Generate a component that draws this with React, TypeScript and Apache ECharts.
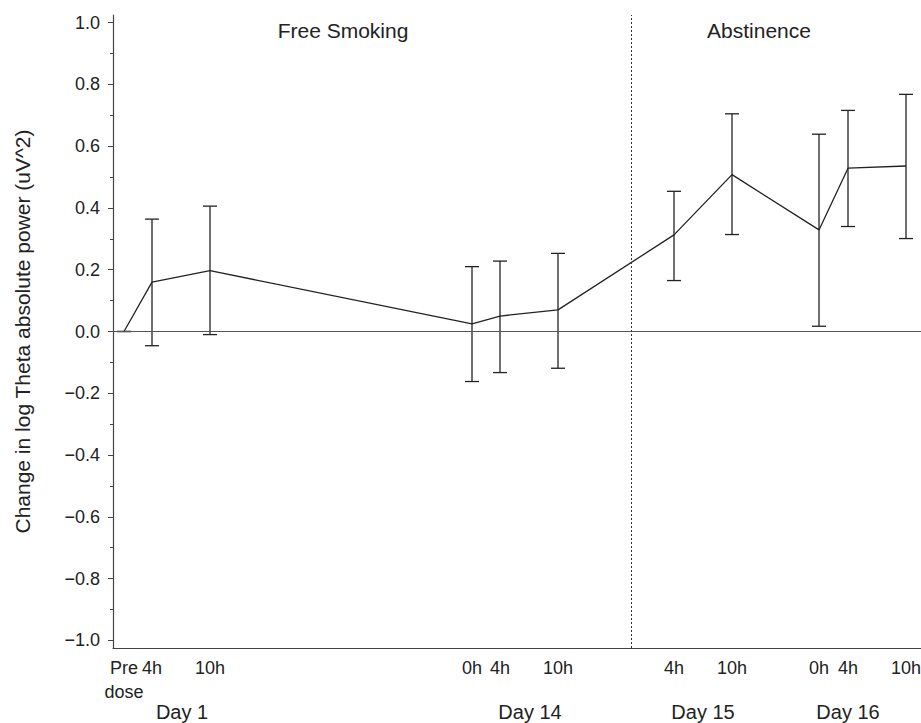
import React, { useEffect, useRef } from "react";
import * as echarts from "echarts";

// x positions of the time points on the (arbitrary) study timeline axis
const timeLabels = ["Pre\ndose", "4h", "10h", "0h", "4h", "10h", "4h", "10h", "0h", "4h", "10h"];
const timePos = [11, 39, 97, 359, 387, 445, 561, 619, 706, 735, 793];
const meanVals = [0, 0.16, 0.197, 0.025, 0.05, 0.07, 0.313, 0.508, 0.329, 0.529, 0.536];
const upperVals = [0, 0.364, 0.406, 0.21, 0.228, 0.253, 0.454, 0.705, 0.639, 0.716, 0.768];
const lowerVals = [0, -0.046, -0.01, -0.162, -0.133, -0.119, 0.165, 0.314, 0.017, 0.34, 0.301];

const dayLabels = ["Day 1", "Day 14", "Day 15", "Day 16"];
const dayPos = [69, 417, 590, 735];

const phaseBoundary = 518;
const xMax = 808;

const yMajorTicks = [-1, -0.8, -0.6, -0.4, -0.2, 0, 0.2, 0.4, 0.6, 0.8, 1];
const yMinorTicks = [-0.9, -0.7, -0.5, -0.3, -0.1, 0.1, 0.3, 0.5, 0.7, 0.9];

const FONT = "'Liberation Sans', Arial, Helvetica, sans-serif";
const INK = "#222";

function labelAxis(
  values: number[],
  names: string[],
  margin: number,
  fontSize: number,
  lineHeight: number,
  showLine: boolean
) {
  return {
    type: "value",
    min: 0,
    max: xMax,
    position: "bottom",
    axisLine: { show: showLine, onZero: false, lineStyle: { color: "#444", width: 1.2 } },
    axisTick: { show: false },
    splitLine: { show: false },
    axisLabel: {
      customValues: values,
      showMinLabel: true,
      showMaxLabel: true,
      margin,
      color: INK,
      fontFamily: FONT,
      fontSize,
      lineHeight,
      verticalAlign: "top",
      formatter: (v: number) => {
        const i = values.indexOf(v);
        return i >= 0 ? names[i] : "";
      },
    },
  };
}

export default function App() {
  const ref = useRef<HTMLDivElement>(null);
  useEffect(() => {
    if (!ref.current) return;
    const chart = echarts.init(ref.current, null, { renderer: "svg" });
    const lineData = timePos.map((x, i) => [x, meanVals[i]]);
    const errData = timePos.map((x, i) => [x, lowerVals[i], upperVals[i]]);
    chart.setOption({
      animation: false,
      backgroundColor: "#fff",
      grid: { left: 113, right: 0, top: 15, bottom: 75, containLabel: false, outerBoundsMode: "none" },
      xAxis: [
        labelAxis(timePos.slice(1), timeLabels.slice(1), 8, 18, 24, true),
        labelAxis(timePos.slice(0, 1), timeLabels.slice(0, 1), 8, 18, 24, false),
        labelAxis(dayPos, dayLabels, 54, 20, 20, false),
      ],
      yAxis: [
        {
          type: "value",
          min: -1.025,
          max: 1.025,
          name: "Change in log Theta absolute power (uV^2)",
          nameLocation: "middle",
          nameGap: 80,
          nameTextStyle: { color: INK, fontFamily: FONT, fontSize: 21 },
          axisLine: { show: true, onZero: false, lineStyle: { color: "#444", width: 1.2 } },
          axisTick: { show: true, customValues: yMajorTicks, length: 5, lineStyle: { color: "#444" } },
          splitLine: { show: false },
          axisLabel: {
            customValues: yMajorTicks,
            showMinLabel: true,
            showMaxLabel: true,
            margin: 13,
            color: INK,
            fontFamily: FONT,
            fontSize: 18,
            formatter: (v: number) => {
              const s = Math.abs(v).toFixed(1);
              return v < -1e-9 ? "\u2212" + s : s;
            },
          },
        },
        {
          type: "value",
          min: -1.025,
          max: 1.025,
          position: "left",
          axisLine: { show: false },
          axisTick: { show: true, customValues: yMinorTicks, length: 3, lineStyle: { color: "#444" } },
          axisLabel: { show: false },
          splitLine: { show: false },
        },
      ],
      graphic: [
        {
          type: "text",
          x: 343,
          y: 30,
          style: {
            text: "Free Smoking",
            fill: INK,
            font: `21px ${FONT}`,
            textAlign: "center",
            textVerticalAlign: "middle",
          },
        },
        {
          type: "text",
          x: 759,
          y: 30,
          style: {
            text: "Abstinence",
            fill: INK,
            font: `21px ${FONT}`,
            textAlign: "center",
            textVerticalAlign: "middle",
          },
        },
      ],
      series: [
        {
          type: "line",
          data: lineData,
          xAxisIndex: 0,
          yAxisIndex: 0,
          symbol: "none",
          lineStyle: { color: INK, width: 1.3 },
          markLine: {
            silent: true,
            symbol: "none",
            label: { show: false },
            data: [
              { yAxis: 0, lineStyle: { color: "#555", width: 1.1, type: "solid" } },
              { xAxis: phaseBoundary, lineStyle: { color: "#333", width: 1, type: [2, 2] } },
            ],
          },
          z: 3,
        },
        {
          type: "custom",
          xAxisIndex: 0,
          yAxisIndex: 0,
          data: errData,
          encode: { x: 0, y: [1, 2] },
          renderItem: (params: any, api: any) => {
            const x = api.value(0);
            const lo = api.coord([x, api.value(1)]);
            const hi = api.coord([x, api.value(2)]);
            const half = 7;
            const style = { stroke: INK, lineWidth: 1.3 };
            return {
              type: "group",
              children: [
                { type: "line", shape: { x1: lo[0], y1: lo[1], x2: hi[0], y2: hi[1] }, style },
                { type: "line", shape: { x1: hi[0] - half, y1: hi[1], x2: hi[0] + half, y2: hi[1] }, style },
                { type: "line", shape: { x1: lo[0] - half, y1: lo[1], x2: lo[0] + half, y2: lo[1] }, style },
              ],
            };
          },
          z: 4,
        },
      ],
    });
    return () => chart.dispose();
  }, []);
  return (
    <div
      ref={ref}
      style={{ position: "absolute", left: 0, top: 0, width: 921, height: 723 }}
    />
  );
}
